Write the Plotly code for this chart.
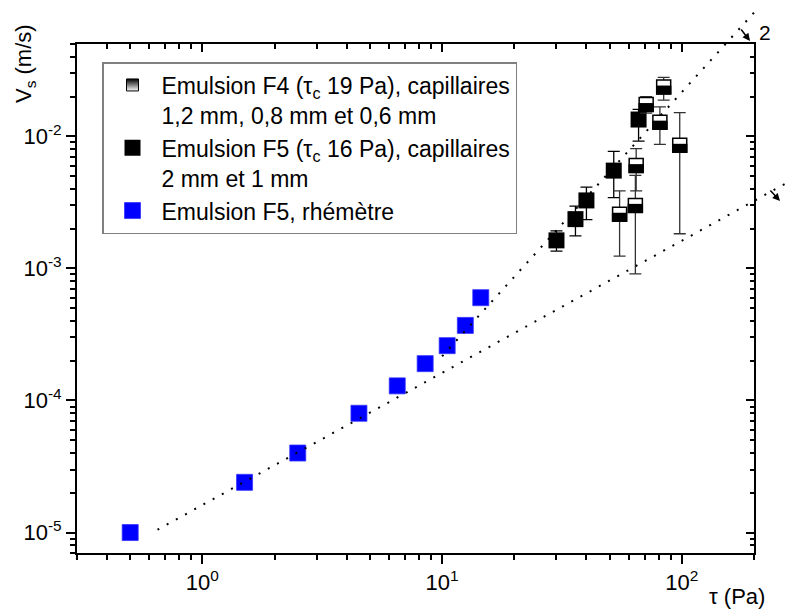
import numpy as np
import plotly.graph_objects as go

W, H = 790, 612
# plot-area frame in pixels (layout only)
PL, PR, PT, PB = 77, 754, 44, 553

# ---------------- data ----------------
tau_rheo = [0.5, 1.5, 2.5, 4.5, 6.5, 8.5, 10.5, 12.5, 14.5]
vs_rheo = [1.0e-5, 2.4e-5, 4.0e-5, 8.0e-5, 1.29e-4, 1.9e-4, 2.6e-4, 3.7e-4, 6.0e-4]

tau_f5 = [30, 36, 40, 52, 66]
vs_f5 = [1.63e-3, 2.36e-3, 3.27e-3, 5.5e-3, 1.34e-2]
vs_f5_hi = [1.92e-3, 2.96e-3, 4.13e-3, 7.7e-3, 1.6e-2]
vs_f5_lo = [1.35e-3, 1.76e-3, 2.34e-3, 3.43e-3, 9.2e-3]

tau_f4 = [55, 64.5, 64, 71, 81, 84, 98]
vs_f4 = [2.57e-3, 6.0e-3, 3.0e-3, 1.74e-2, 1.28e-2, 2.36e-2, 8.55e-3]
vs_f4_hi = [3.86e-3, 8.07e-3, 5.07e-3, 2.0e-2, 1.67e-2, 2.79e-2, 1.51e-2]
vs_f4_lo = [1.24e-3, 3.86e-3, 9.1e-4, 1.5e-2, 8.7e-3, 1.88e-2, 1.83e-3]

# guide lines (power laws, slope 2 and slope 1)
slope2_tau = [10, 200]
slope2_vs = [2.16e-4, 8.64e-2]
slope1_tau = [0.65, 290]
slope1_vs = [1.05e-5, 4.7e-3]

x_major = [1, 10, 100]
x_major_text = ['10<sup>0</sup>', '10<sup>1</sup>', '10<sup>2</sup>']
y_major = [1e-5, 1e-4, 1e-3, 1e-2]
y_major_text = ['10<sup>-5</sup>', '10<sup>-4</sup>', '10<sup>-3</sup>', '10<sup>-2</sup>']

name_f4 = 'Emulsion F4 (τ<sub>c</sub> 19 Pa), capillaires<br>1,2 mm, 0,8 mm et 0,6 mm'
name_f5 = 'Emulsion F5 (τ<sub>c</sub> 16 Pa), capillaires<br>2 mm et 1 mm'
name_rheo = 'Emulsion F5, rhémètre'

x_lim = [0.3, 200]
y_lim = [7e-6, 0.05]

# ---------------- derived ----------------
f5_plus = [h - v for h, v in zip(vs_f5_hi, vs_f5)]
f5_minus = [v - l for v, l in zip(vs_f5, vs_f5_lo)]
f4_plus = [h - v for h, v in zip(vs_f4_hi, vs_f4)]
f4_minus = [v - l for v, l in zip(vs_f4, vs_f4_lo)]

xr = [np.log10(x_lim[0]), np.log10(x_lim[1])]
yr = [np.log10(y_lim[0]), np.log10(y_lim[1])]
xdom = [PL / W, PR / W]
ydom = [1 - PB / H, 1 - PT / H]
dec_x = (xr[1] - xr[0]) / (PR - PL)
dec_y = (yr[1] - yr[0]) / (PB - PT)
xr_full = [xr[0] - PL * dec_x, xr[1] + (W - PR) * dec_x]
yr_full = [yr[0] - (H - PB) * dec_y, yr[1] + PT * dec_y]

x_minor = [m * 10.0 ** e for e in (-1, 0, 1) for m in range(2, 10)]
x_minor = [v for v in x_minor if x_lim[0] <= v <= x_lim[1] * 1.001] + [200]
y_minor = [m * 10.0 ** e for e in (-6, -5, -4, -3, -2) for m in range(2, 10)]
y_minor = [v for v in y_minor if y_lim[0] <= v <= y_lim[1] * 1.001]

FONT = 'Liberation Sans, Arial, sans-serif'

fig = go.Figure()

# legend swatch for F4 (half filled look)
fig.add_trace(go.Scatter(
    x=[None], y=[None], mode='markers', name=name_f4,
    marker=dict(symbol='square', size=12, color='black',
                gradient=dict(type='vertical', color='white'),
                line=dict(color='black', width=1))))

# F5 capillaries
fig.add_trace(go.Scatter(
    x=tau_f5, y=vs_f5, mode='markers', name=name_f5,
    marker=dict(symbol='square', size=16, color='black', line=dict(width=0)),
    error_y=dict(type='data', symmetric=False, array=f5_plus, arrayminus=f5_minus,
                 color='black', thickness=1.3, width=6)))

# rheometer
fig.add_trace(go.Scatter(
    x=tau_rheo, y=vs_rheo, mode='markers', name=name_rheo,
    marker=dict(symbol='square', size=16, color='#0000ff', line=dict(color='#3333ff', width=0.8))))

# F4 capillaries: white square + black top part
fig.add_trace(go.Scatter(
    x=tau_f4, y=vs_f4, mode='markers', showlegend=False,
    marker=dict(symbol='square', size=14, color='white', line=dict(color='black', width=1.5)),
    error_y=dict(type='data', symmetric=False, array=f4_plus, arrayminus=f4_minus,
                 color='#333333', thickness=1.3, width=6)))
fig.add_trace(go.Scatter(
    x=tau_f4, y=vs_f4, mode='markers', showlegend=False, hoverinfo='skip',
    marker=dict(symbol='line-ew', size=11, color='black',
                line=dict(color='black', width=9), angle=0, standoff=3)))

# guide lines on a full-figure overlay axis pair (so they may run past the frame)
for tx, vy in ((slope2_tau, slope2_vs), (slope1_tau, slope1_vs)):
    fig.add_trace(go.Scatter(
        x=tx, y=vy, xaxis='x2', yaxis='y2', mode='lines', showlegend=False,
        hoverinfo='skip', line=dict(color='black', width=2, dash='2px,8.5px')))

# invisible trace for the inner top/right tick axes
fig.add_trace(go.Scatter(x=[1], y=[1e-3], xaxis='x3', yaxis='y3', mode='markers',
                         marker=dict(opacity=0), showlegend=False, hoverinfo='skip'))

common_tick = dict(tickcolor='black', tickwidth=1.5, showgrid=False, zeroline=False)

fig.update_layout(
    width=W, height=H,
    margin=dict(l=0, r=0, t=0, b=0),
    paper_bgcolor='white', plot_bgcolor='rgba(0,0,0,0)',
    font=dict(family=FONT, size=22, color='black'),
    xaxis=dict(type='log', range=xr, domain=xdom, anchor='y',
               showline=True, linecolor='black', linewidth=2, mirror=True,
               ticks='outside', ticklen=9, tickvals=x_major, ticktext=x_major_text,
               minor=dict(tickvals=x_minor, ticks='outside', ticklen=5,
                          tickcolor='black', tickwidth=1.5, showgrid=False),
               tickfont=dict(size=22), **common_tick),
    yaxis=dict(type='log', range=yr, domain=ydom, anchor='x',
               showline=True, linecolor='black', linewidth=2, mirror=True,
               ticks='outside', ticklen=9, tickvals=y_major, ticktext=y_major_text,
               minor=dict(tickvals=y_minor, ticks='outside', ticklen=5,
                          tickcolor='black', tickwidth=1.5, showgrid=False),
               tickfont=dict(size=22), **common_tick),
    xaxis3=dict(type='log', range=xr, overlaying='x', anchor='y', side='top',
                showline=False, ticks='inside', ticklen=8, tickvals=x_major,
                showticklabels=False,
                minor=dict(tickvals=x_minor, ticks='inside', ticklen=4.5,
                           tickcolor='black', tickwidth=1.5, showgrid=False),
                **common_tick),
    yaxis3=dict(type='log', range=yr, overlaying='y', anchor='x', side='right',
                showline=False, ticks='inside', ticklen=8, tickvals=y_major,
                showticklabels=False,
                minor=dict(tickvals=y_minor, ticks='inside', ticklen=4.5,
                           tickcolor='black', tickwidth=1.5, showgrid=False),
                **common_tick),
    xaxis2=dict(type='log', range=xr_full, domain=[0, 1], anchor='y2', visible=False),
    yaxis2=dict(type='log', range=yr_full, domain=[0, 1], anchor='x2', visible=False),
    legend=dict(x=102 / W, y=1 - 62 / H, xanchor='left', yanchor='top',
                bordercolor='#808080', borderwidth=1.5, bgcolor='white',
                font=dict(family=FONT, size=23, color='black'),
                valign='top', tracegroupgap=0, traceorder='normal', itemwidth=48),
    showlegend=True,
)

# edge value of the slope-1 guide at the right frame
slope = np.log10(slope1_vs[1] / slope1_vs[0]) / np.log10(slope1_tau[1] / slope1_tau[0])
v_edge = slope1_vs[0] * (x_lim[1] / slope1_tau[0]) ** slope

fig.add_shape(type='line', xref='x2', yref='y2', x0=np.log10(x_lim[1]), x1=xr_full[1],
              y0=np.log10(v_edge), y1=np.log10(v_edge), line=dict(color='black', width=1.3))

ann = dict(xref='paper', yref='paper', xanchor='center', yanchor='middle')
fig.add_annotation(text='V<sub>s</sub> (m/s)', x=25 / W, y=1 - 64 / H,
                   textangle=-90, showarrow=False, font=dict(size=22), **ann)
fig.add_annotation(text='τ (Pa)', x=737 / W, y=1 - 596 / H,
                   showarrow=False, font=dict(size=22), **ann)
fig.add_annotation(text='2', x=765 / W, y=1 - 32 / H,
                   showarrow=False, font=dict(size=21), **ann)
fig.add_annotation(text='', x=750 / W, y=1 - 41 / H,
                   ax=-10, ay=-13, showarrow=True, arrowhead=2, arrowsize=1,
                   arrowwidth=1.5, arrowcolor='black', **ann)
fig.add_annotation(text='', x=780 / W, y=1 - 201 / H,
                   ax=-11, ay=-12, showarrow=True, arrowhead=2, arrowsize=1,
                   arrowwidth=1.5, arrowcolor='black', **ann)

fig.write_html('out.html', config={'displayModeBar': False},
               post_script="document.body.style.margin='0px';")
